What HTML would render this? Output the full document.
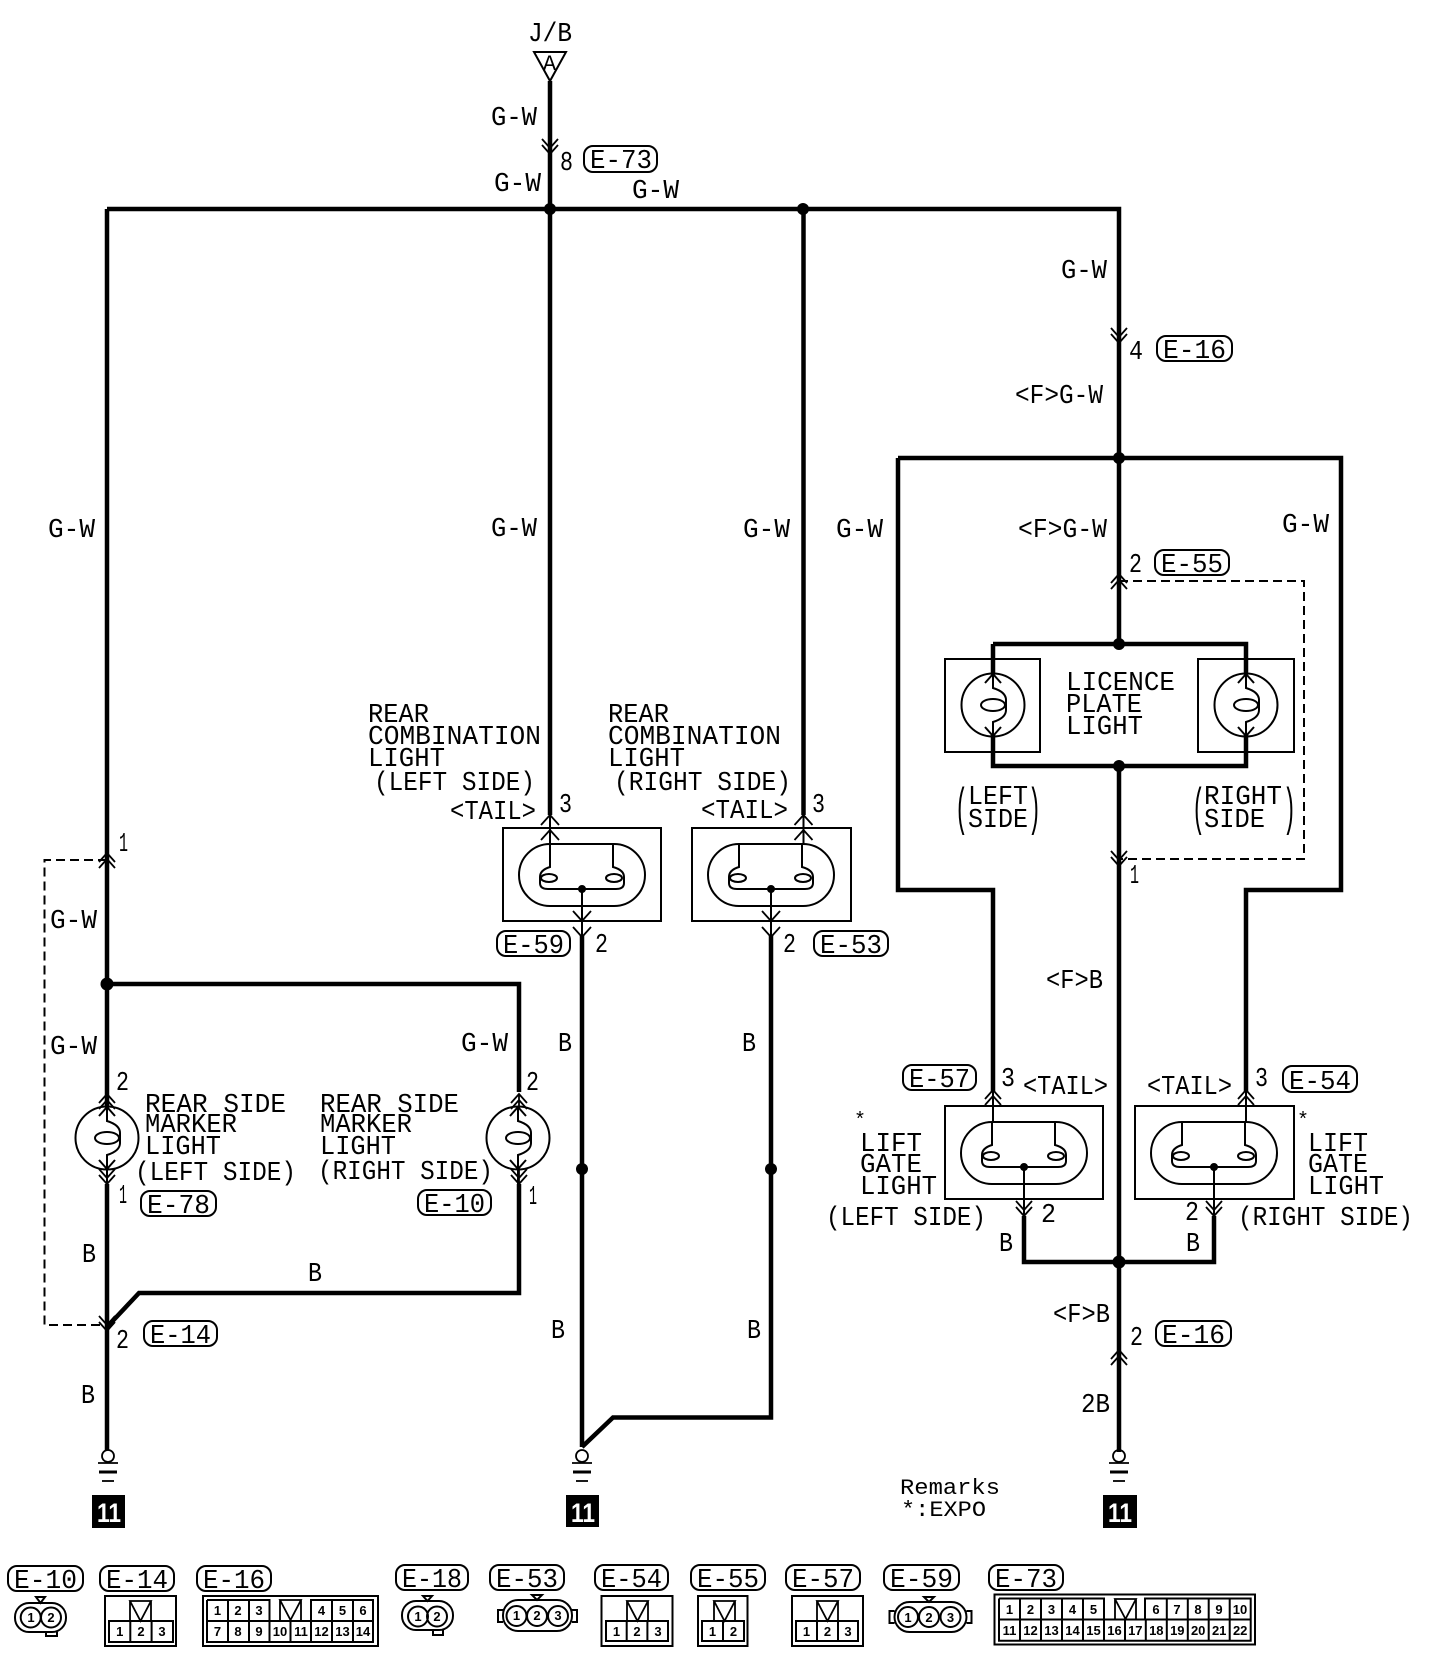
<!DOCTYPE html>
<html><head><meta charset="utf-8"><style>
html,body{margin:0;padding:0;background:#fff}
svg{display:block}
text{font-family:"Liberation Mono",monospace;font-size:27px;fill:#000}
.s{font-family:"Liberation Sans",sans-serif;font-weight:bold;font-size:13px;text-anchor:middle}
.w{fill:none;stroke:#000;stroke-width:4.5;stroke-linejoin:miter}
.t{fill:none;stroke:#000;stroke-width:2}
.d{fill:none;stroke:#000;stroke-width:2;stroke-dasharray:9 5}
.c{fill:none;stroke:#000;stroke-width:2}
</style></head><body>
<svg width="1440" height="1680" viewBox="0 0 1440 1680" xmlns="http://www.w3.org/2000/svg">
<defs>
<path id="u" d="M-8 9L0 0L8 9M-8 15L0 6L8 15M0 0V15" fill="none" stroke="#000" stroke-width="1.8"/>
<path id="n" d="M-8-9L0 0L8-9M-8-15L0-6L8-15M0 0V-15" fill="none" stroke="#000" stroke-width="1.8"/>
<path id="u1" d="M-9 10L0 0L9 10M0 0V12" fill="none" stroke="#000" stroke-width="1.8"/>
<path id="n1" d="M-9-10L0 0L9-10M0 0V-12" fill="none" stroke="#000" stroke-width="1.8"/>
<g id="bulb" fill="none" stroke="#000" stroke-width="2">
<rect x="0" y="0" width="126" height="62" rx="31" ry="31"/>
<path d="M31 0V23Q21 26 21 33V39Q21 45 29 45H97Q105 45 105 39V33Q105 26 94 23V0M31 0H94"/>
<ellipse cx="30" cy="34" rx="8" ry="4"/><ellipse cx="95" cy="34" rx="8" ry="4"/>
<circle cx="63" cy="45" r="3" fill="#000"/>
</g>
<g id="lamp" fill="none" stroke="#000" stroke-width="2">
<circle r="31.500"/><ellipse rx="12" ry="6"/>
<path d="M0-31V-17Q13-13 13-5V5Q13 13 0 17V31M-8-22L0-31L8-22M-8 22L0 31L8 22"/>
</g>
<g id="gnd" fill="none" stroke="#000">
<circle cx="0" cy="-6" r="6" stroke-width="1.800"/>
<path d="M-10 1H10" stroke-width="1.800"/><path d="M-9 10H9" stroke-width="3"/><path d="M-6 19H6" stroke-width="1.800"/>
</g>
<path id="v" d="M0 0H21L10.500 20Z M0 0V20M21 0V20" fill="none" stroke="#000" stroke-width="1.800"/>
</defs>

<!-- main wires -->
<path class="w" d="M107 209H1119V458M550 81V815M803.500 209V815M107 209V1106M107 984H519V1092M107 1184V1450M519 1184V1293H139L107 1327"/>
<path class="w" d="M582 935V1447M582 1447L613 1417.500H771V935"/>
<path class="w" d="M1119 458V644M898 458H1341V890H1246V1092M898 458V890H993V1092M993 644H1246V674M993 644V674M993 735V766H1246V735M1119 766V1452"/>
<path class="w" d="M1024 1216V1262H1214V1216"/>
<!-- dashed -->
<path class="d" d="M107 860H44.500V1325H107"/>
<path class="d" d="M1119 581H1304V859H1119"/>
<!-- junctions -->
<g fill="#000">
<circle cx="550" cy="209" r="6"/><circle cx="803" cy="209" r="6"/><circle cx="1119" cy="458" r="6"/>
<circle cx="1119" cy="644" r="6"/><circle cx="1119" cy="766" r="6"/><circle cx="107" cy="984" r="6.500"/>
<circle cx="582" cy="1169" r="6"/><circle cx="771" cy="1169" r="6"/><circle cx="1119" cy="1262" r="6.500"/>
</g>
<!-- J/B -->
<path class="t" d="M534 52H566L550 81Z"/>
<text x="528" y="41" textLength="44" lengthAdjust="spacingAndGlyphs">J/B</text>
<text x="543" y="70" style="font-size:22px" textLength="13" lengthAdjust="spacingAndGlyphs">A</text>
<!-- boxes -->
<g class="t">
<rect x="503" y="828" width="158" height="93"/><rect x="692" y="828" width="159" height="93"/>
<rect x="945" y="659" width="95" height="93"/><rect x="1198" y="659" width="96" height="93"/>
<rect x="945" y="1106" width="158" height="93"/><rect x="1135" y="1106" width="159" height="93"/>
</g>
<use href="#bulb" x="519" y="844"/><use href="#bulb" x="708" y="844"/>
<use href="#bulb" x="961" y="1122"/><use href="#bulb" x="1151" y="1122"/>
<path class="t" d="M550 815V844M803.500 815V844M582 889V935M771 889V935M993 1092V1122M1246 1092V1122M1024 1167V1216M1214 1167V1216"/>
<use href="#lamp" x="107" y="1138"/><use href="#lamp" x="518" y="1138"/>
<use href="#lamp" x="993" y="705"/><use href="#lamp" x="1246" y="705"/>
<path class="t" d="M107 1106V1090M107 1170V1184M518 1170V1184"/>
<!-- arrows -->
<use href="#n" x="550" y="154"/>
<use href="#u1" x="550" y="815"/><use href="#u1" x="550" y="830"/>
<use href="#u1" x="803.500" y="815"/><use href="#u1" x="803.500" y="830"/>
<use href="#n1" x="582" y="921"/><use href="#n1" x="582" y="937"/>
<use href="#n1" x="771" y="921"/><use href="#n1" x="771" y="937"/>
<use href="#u" x="107" y="853"/>
<use href="#u" x="107" y="1094"/><use href="#u" x="519" y="1094"/>
<use href="#n" x="107" y="1184"/><use href="#n" x="519" y="1184"/>
<use href="#n" x="107" y="1331"/>
<use href="#n" x="1119" y="343"/>
<use href="#u" x="1119" y="574"/>
<use href="#n" x="1119" y="866"/>
<use href="#u" x="993" y="1090"/><use href="#u" x="1246" y="1090"/>
<use href="#n" x="1024" y="1216"/><use href="#n" x="1214" y="1216"/>
<use href="#u" x="1119" y="1350"/>
<!-- grounds -->
<use href="#gnd" x="108" y="1462"/><use href="#gnd" x="582" y="1462"/><use href="#gnd" x="1119" y="1462"/>
<g fill="#000"><rect x="92" y="1495" width="33" height="33"/><rect x="566" y="1495" width="33" height="32"/><rect x="1103" y="1495" width="34" height="33"/></g>
<text x="97" y="1522" style="fill:#fff;font-family:'Liberation Sans',sans-serif;font-weight:bold" textLength="24" lengthAdjust="spacingAndGlyphs">11</text>
<text x="571" y="1522" style="fill:#fff;font-family:'Liberation Sans',sans-serif;font-weight:bold" textLength="24" lengthAdjust="spacingAndGlyphs">11</text>
<text x="1108" y="1522" style="fill:#fff;font-family:'Liberation Sans',sans-serif;font-weight:bold" textLength="24" lengthAdjust="spacingAndGlyphs">11</text>
<!-- wire labels -->
<text x="491" y="125" textLength="46" lengthAdjust="spacingAndGlyphs">G-W</text>
<text x="560" y="170" textLength="13" lengthAdjust="spacingAndGlyphs">8</text>
<text x="494" y="191" textLength="47" lengthAdjust="spacingAndGlyphs">G-W</text>
<text x="632" y="198" textLength="47" lengthAdjust="spacingAndGlyphs">G-W</text>
<text x="48" y="537" textLength="47" lengthAdjust="spacingAndGlyphs">G-W</text>
<text x="491" y="536" textLength="46" lengthAdjust="spacingAndGlyphs">G-W</text>
<text x="1061" y="278" textLength="46" lengthAdjust="spacingAndGlyphs">G-W</text>
<text x="1129" y="359" textLength="14" lengthAdjust="spacingAndGlyphs">4</text>
<text x="1015" y="403" textLength="88" lengthAdjust="spacingAndGlyphs">&lt;F&gt;G-W</text>
<text x="743" y="537" textLength="47" lengthAdjust="spacingAndGlyphs">G-W</text>
<text x="836" y="537" textLength="47" lengthAdjust="spacingAndGlyphs">G-W</text>
<text x="1018" y="537" textLength="89" lengthAdjust="spacingAndGlyphs">&lt;F&gt;G-W</text>
<text x="1282" y="532" textLength="47" lengthAdjust="spacingAndGlyphs">G-W</text>
<text x="1129" y="572" textLength="13" lengthAdjust="spacingAndGlyphs">2</text>
<text x="368" y="722" textLength="61" lengthAdjust="spacingAndGlyphs">REAR</text>
<text x="368" y="744" textLength="173" lengthAdjust="spacingAndGlyphs">COMBINATION</text>
<text x="368" y="766" textLength="77" lengthAdjust="spacingAndGlyphs">LIGHT</text>
<text x="374" y="790" textLength="161" lengthAdjust="spacingAndGlyphs">(LEFT SIDE)</text>
<text x="450" y="819" textLength="86" lengthAdjust="spacingAndGlyphs">&lt;TAIL&gt;</text>
<text x="559" y="812" textLength="13" lengthAdjust="spacingAndGlyphs">3</text>
<text x="608" y="722" textLength="61" lengthAdjust="spacingAndGlyphs">REAR</text>
<text x="608" y="744" textLength="173" lengthAdjust="spacingAndGlyphs">COMBINATION</text>
<text x="608" y="766" textLength="77" lengthAdjust="spacingAndGlyphs">LIGHT</text>
<text x="614" y="790" textLength="177" lengthAdjust="spacingAndGlyphs">(RIGHT SIDE)</text>
<text x="701" y="818" textLength="87" lengthAdjust="spacingAndGlyphs">&lt;TAIL&gt;</text>
<text x="812" y="812" textLength="13" lengthAdjust="spacingAndGlyphs">3</text>
<text x="119" y="851" textLength="9" lengthAdjust="spacingAndGlyphs">1</text>
<text x="50" y="928" textLength="47" lengthAdjust="spacingAndGlyphs">G-W</text>
<text x="595" y="952" textLength="13" lengthAdjust="spacingAndGlyphs">2</text>
<text x="783" y="952" textLength="13" lengthAdjust="spacingAndGlyphs">2</text>
<text x="50" y="1054" textLength="47" lengthAdjust="spacingAndGlyphs">G-W</text>
<text x="461" y="1051" textLength="47" lengthAdjust="spacingAndGlyphs">G-W</text>
<text x="116" y="1090" textLength="13" lengthAdjust="spacingAndGlyphs">2</text>
<text x="526" y="1090" textLength="13" lengthAdjust="spacingAndGlyphs">2</text>
<text x="558" y="1051" textLength="14" lengthAdjust="spacingAndGlyphs">B</text>
<text x="742" y="1051" textLength="14" lengthAdjust="spacingAndGlyphs">B</text>
<text x="145" y="1112" textLength="141" lengthAdjust="spacingAndGlyphs">REAR SIDE</text>
<text x="320" y="1112" textLength="139" lengthAdjust="spacingAndGlyphs">REAR SIDE</text>
<text x="145" y="1132" textLength="92" lengthAdjust="spacingAndGlyphs">MARKER</text>
<text x="320" y="1132" textLength="92" lengthAdjust="spacingAndGlyphs">MARKER</text>
<text x="145" y="1154" textLength="76" lengthAdjust="spacingAndGlyphs">LIGHT</text>
<text x="320" y="1154" textLength="76" lengthAdjust="spacingAndGlyphs">LIGHT</text>
<text x="135" y="1180" textLength="161" lengthAdjust="spacingAndGlyphs">(LEFT SIDE)</text>
<text x="318" y="1179" textLength="175" lengthAdjust="spacingAndGlyphs">(RIGHT SIDE)</text>
<text x="119" y="1203" textLength="8" lengthAdjust="spacingAndGlyphs">1</text>
<text x="529" y="1204" textLength="8" lengthAdjust="spacingAndGlyphs">1</text>
<text x="82" y="1262" textLength="14" lengthAdjust="spacingAndGlyphs">B</text>
<text x="308" y="1281" textLength="14" lengthAdjust="spacingAndGlyphs">B</text>
<text x="116" y="1348" textLength="13" lengthAdjust="spacingAndGlyphs">2</text>
<text x="81" y="1403" textLength="14" lengthAdjust="spacingAndGlyphs">B</text>
<text x="551" y="1338" textLength="14" lengthAdjust="spacingAndGlyphs">B</text>
<text x="747" y="1338" textLength="14" lengthAdjust="spacingAndGlyphs">B</text>
<text x="1066" y="690" textLength="109" lengthAdjust="spacingAndGlyphs">LICENCE</text>
<text x="1066" y="712" textLength="76" lengthAdjust="spacingAndGlyphs">PLATE</text>
<text x="1066" y="734" textLength="77" lengthAdjust="spacingAndGlyphs">LIGHT</text>
<text x="968" y="804" textLength="60" lengthAdjust="spacingAndGlyphs">LEFT</text>
<text x="968" y="827" textLength="60" lengthAdjust="spacingAndGlyphs">SIDE</text>
<text x="1204" y="804" textLength="78" lengthAdjust="spacingAndGlyphs">RIGHT</text>
<text x="1204" y="827" textLength="61" lengthAdjust="spacingAndGlyphs">SIDE</text>
<text x="955" y="824" style="font-size:52px" textLength="13" lengthAdjust="spacingAndGlyphs">(</text>
<text x="1028" y="824" style="font-size:52px" textLength="13" lengthAdjust="spacingAndGlyphs">)</text>
<text x="1192" y="824" style="font-size:52px" textLength="13" lengthAdjust="spacingAndGlyphs">(</text>
<text x="1283" y="824" style="font-size:52px" textLength="13" lengthAdjust="spacingAndGlyphs">)</text>
<text x="1130" y="883" textLength="9" lengthAdjust="spacingAndGlyphs">1</text>
<text x="1046" y="988" textLength="57" lengthAdjust="spacingAndGlyphs">&lt;F&gt;B</text>
<text x="1001" y="1086" textLength="14" lengthAdjust="spacingAndGlyphs">3</text>
<text x="1023" y="1094" textLength="85" lengthAdjust="spacingAndGlyphs">&lt;TAIL&gt;</text>
<text x="1147" y="1094" textLength="85" lengthAdjust="spacingAndGlyphs">&lt;TAIL&gt;</text>
<text x="1255" y="1086" textLength="13" lengthAdjust="spacingAndGlyphs">3</text>
<text x="854" y="1126" style="font-size:20px">*</text>
<text x="1297" y="1126" style="font-size:20px">*</text>
<text x="860" y="1151" textLength="62" lengthAdjust="spacingAndGlyphs">LIFT</text>
<text x="860" y="1172" textLength="62" lengthAdjust="spacingAndGlyphs">GATE</text>
<text x="860" y="1194" textLength="77" lengthAdjust="spacingAndGlyphs">LIGHT</text>
<text x="826" y="1225" textLength="160" lengthAdjust="spacingAndGlyphs">(LEFT SIDE)</text>
<text x="1041" y="1222" textLength="15" lengthAdjust="spacingAndGlyphs">2</text>
<text x="1185" y="1220" textLength="14" lengthAdjust="spacingAndGlyphs">2</text>
<text x="1238" y="1225" textLength="175" lengthAdjust="spacingAndGlyphs">(RIGHT SIDE)</text>
<text x="1308" y="1151" textLength="60" lengthAdjust="spacingAndGlyphs">LIFT</text>
<text x="1308" y="1172" textLength="60" lengthAdjust="spacingAndGlyphs">GATE</text>
<text x="1308" y="1194" textLength="76" lengthAdjust="spacingAndGlyphs">LIGHT</text>
<text x="999" y="1251" textLength="14" lengthAdjust="spacingAndGlyphs">B</text>
<text x="1186" y="1251" textLength="14" lengthAdjust="spacingAndGlyphs">B</text>
<text x="1053" y="1322" textLength="57" lengthAdjust="spacingAndGlyphs">&lt;F&gt;B</text>
<text x="1130" y="1345" textLength="13" lengthAdjust="spacingAndGlyphs">2</text>
<text x="1081" y="1412" textLength="29" lengthAdjust="spacingAndGlyphs">2B</text>
<text x="900" y="1494" style="font-size:22px" textLength="100" lengthAdjust="spacingAndGlyphs">Remarks</text>
<text x="901" y="1516" style="font-size:22px" textLength="85" lengthAdjust="spacingAndGlyphs">*:EXPO</text>
<!-- badges -->
<g class="t">
<rect x="584" y="146" width="73" height="26" rx="9"/><rect x="1157" y="336" width="75" height="25" rx="9"/>
<rect x="1155" y="550" width="74" height="25" rx="9"/><rect x="497" y="931" width="73" height="25" rx="9"/>
<rect x="814" y="931" width="74" height="25" rx="9"/>
<rect x="141" y="1191" width="75" height="25" rx="9"/><rect x="418" y="1190" width="73" height="25" rx="9"/>
<rect x="144" y="1321" width="73" height="25" rx="9"/><rect x="903" y="1065" width="73" height="25" rx="9"/>
<rect x="1283" y="1066" width="74" height="26" rx="9"/><rect x="1156" y="1321" width="75" height="25" rx="9"/>
<rect x="8" y="1566" width="75" height="25" rx="9"/><rect x="100" y="1566" width="74" height="25" rx="9"/>
<rect x="197" y="1566" width="74" height="25" rx="9"/><rect x="396" y="1565" width="72" height="25" rx="9"/>
<rect x="490" y="1565" width="74" height="25" rx="9"/><rect x="595" y="1565" width="73" height="25" rx="9"/>
<rect x="691" y="1565" width="74" height="25" rx="9"/><rect x="786" y="1565" width="74" height="25" rx="9"/>
<rect x="884" y="1565" width="75" height="25" rx="9"/><rect x="989" y="1565" width="74" height="25" rx="9"/>
</g>
<text x="590" y="168" textLength="62" lengthAdjust="spacingAndGlyphs">E-73</text>
<text x="1163" y="358" textLength="63" lengthAdjust="spacingAndGlyphs">E-16</text>
<text x="1161" y="572" textLength="62" lengthAdjust="spacingAndGlyphs">E-55</text>
<text x="503" y="953" textLength="61" lengthAdjust="spacingAndGlyphs">E-59</text>
<text x="820" y="953" textLength="62" lengthAdjust="spacingAndGlyphs">E-53</text>
<text x="147" y="1213" textLength="63" lengthAdjust="spacingAndGlyphs">E-78</text>
<text x="424" y="1212" textLength="61" lengthAdjust="spacingAndGlyphs">E-10</text>
<text x="150" y="1343" textLength="61" lengthAdjust="spacingAndGlyphs">E-14</text>
<text x="909" y="1087" textLength="61" lengthAdjust="spacingAndGlyphs">E-57</text>
<text x="1289" y="1089" textLength="62" lengthAdjust="spacingAndGlyphs">E-54</text>
<text x="1162" y="1343" textLength="63" lengthAdjust="spacingAndGlyphs">E-16</text>
<text x="14" y="1588" textLength="63" lengthAdjust="spacingAndGlyphs">E-10</text>
<text x="106" y="1588" textLength="62" lengthAdjust="spacingAndGlyphs">E-14</text>
<text x="203" y="1588" textLength="62" lengthAdjust="spacingAndGlyphs">E-16</text>
<text x="402" y="1587" textLength="60" lengthAdjust="spacingAndGlyphs">E-18</text>
<text x="496" y="1587" textLength="62" lengthAdjust="spacingAndGlyphs">E-53</text>
<text x="601" y="1587" textLength="61" lengthAdjust="spacingAndGlyphs">E-54</text>
<text x="697" y="1587" textLength="62" lengthAdjust="spacingAndGlyphs">E-55</text>
<text x="792" y="1587" textLength="62" lengthAdjust="spacingAndGlyphs">E-57</text>
<text x="890" y="1587" textLength="63" lengthAdjust="spacingAndGlyphs">E-59</text>
<text x="995" y="1587" textLength="62" lengthAdjust="spacingAndGlyphs">E-73</text>
<!-- round connectors -->
<g class="c">
<rect x="15" y="1603" width="51" height="29" rx="14"/><circle cx="30.700" cy="1617.500" r="10"/><circle cx="51" cy="1617.500" r="10"/>
<path d="M36 1597H45L40.500 1603ZM46 1632V1636H57V1632"/>
<rect x="402" y="1601" width="51" height="29" rx="14"/><circle cx="418" cy="1616.500" r="10"/><circle cx="437" cy="1616.500" r="10"/>
<path d="M423 1596H432L427.500 1601ZM433 1630V1635H443V1630"/>
<rect x="503" y="1600" width="69" height="31" rx="15"/><circle cx="516.500" cy="1616" r="10"/><circle cx="537" cy="1616" r="10"/><circle cx="558" cy="1616" r="10"/>
<path d="M532 1595H542L537 1600ZM503 1610H498V1622H503M572 1610H577V1622H572"/>
<rect x="894.500" y="1602" width="72" height="30" rx="15"/><circle cx="908" cy="1617" r="10"/><circle cx="929" cy="1617" r="10"/><circle cx="950.500" cy="1617" r="10"/>
<path d="M924 1597H934L929 1602ZM894.500 1611H889.500V1623H894.500M966.500 1611H971.500V1623H966.500"/>
</g>
<text class="s" x="31" y="1622">1</text><text class="s" x="51" y="1622">2</text>
<text class="s" x="418" y="1621">1</text><text class="s" x="437" y="1621">2</text>
<text class="s" x="516.500" y="1620">1</text><text class="s" x="537" y="1620">2</text><text class="s" x="558" y="1620">3</text>
<text class="s" x="908" y="1622">1</text><text class="s" x="929" y="1622">2</text><text class="s" x="950.500" y="1622">3</text>
<!-- box connectors -->
<g class="c">
<rect x="105" y="1596" width="71" height="50"/><rect x="109" y="1621" width="64" height="21"/><path d="M130.300 1621V1642M151.600 1621V1642"/>
<rect x="203" y="1596" width="175" height="50"/>
<path d="M207 1600H269.500V1621M311 1621V1600H373V1642H207V1600M207 1621H373M228 1600V1642M249 1600V1642M269.500 1621V1642M290.500 1621V1642M311 1621V1642M332 1600V1642M353 1600V1642"/>
<rect x="601.500" y="1596" width="71" height="50"/><rect x="606" y="1621" width="62" height="20"/><path d="M626.700 1621V1641M647.400 1621V1641"/>
<rect x="698" y="1596" width="49.500" height="50"/><rect x="702" y="1621" width="42" height="20"/><path d="M723 1621V1641"/>
<rect x="792" y="1596" width="71" height="50"/><rect x="796" y="1621" width="62" height="20"/><path d="M817 1621V1641M838 1621V1641"/>
<rect x="994.500" y="1594.500" width="260.500" height="50"/>
<path d="M999 1598.500H1104V1619.500M1145 1619.500V1598.500H1250.700V1640.700H999V1598.500M999 1619.500H1250.700M1020 1598.500V1640.700M1041 1598.500V1640.700M1062 1598.500V1640.700M1083 1598.500V1640.700M1104 1619.500V1640.700M1125 1619.500V1640.700M1145.800 1619.500V1640.700M1166.800 1598.500V1640.700M1187.800 1598.500V1640.700M1208.700 1598.500V1640.700M1229.700 1598.500V1640.700"/>
</g>
<use href="#v" x="130" y="1601"/><use href="#v" x="280" y="1600"/><use href="#v" x="627" y="1601"/><use href="#v" x="714" y="1601"/><use href="#v" x="817" y="1601"/><use href="#v" x="1115" y="1599"/>
<text class="s" x="119.700" y="1636">1</text><text class="s" x="141" y="1636">2</text><text class="s" x="162" y="1636">3</text>
<text class="s" x="217.500" y="1615">1</text><text class="s" x="238" y="1615">2</text><text class="s" x="259" y="1615">3</text><text class="s" x="321.500" y="1615">4</text><text class="s" x="342.500" y="1615">5</text><text class="s" x="363" y="1615">6</text>
<text class="s" x="217.500" y="1636">7</text><text class="s" x="238" y="1636">8</text><text class="s" x="259" y="1636">9</text><text class="s" x="280" y="1636">10</text><text class="s" x="301" y="1636">11</text><text class="s" x="321.500" y="1636">12</text><text class="s" x="342.500" y="1636">13</text><text class="s" x="363" y="1636">14</text>
<text class="s" x="616.500" y="1636">1</text><text class="s" x="637" y="1636">2</text><text class="s" x="658" y="1636">3</text>
<text class="s" x="712.500" y="1636">1</text><text class="s" x="733.500" y="1636">2</text>
<text class="s" x="806.500" y="1636">1</text><text class="s" x="827.500" y="1636">2</text><text class="s" x="848" y="1636">3</text>
<text class="s" x="1009.500" y="1614">1</text><text class="s" x="1030.500" y="1614">2</text><text class="s" x="1051.500" y="1614">3</text><text class="s" x="1072.500" y="1614">4</text><text class="s" x="1093.500" y="1614">5</text>
<text class="s" x="1156" y="1614">6</text><text class="s" x="1177" y="1614">7</text><text class="s" x="1198" y="1614">8</text><text class="s" x="1219" y="1614">9</text><text class="s" x="1240" y="1614">10</text>
<text class="s" x="1009.500" y="1635">11</text><text class="s" x="1030.500" y="1635">12</text><text class="s" x="1051.500" y="1635">13</text><text class="s" x="1072.500" y="1635">14</text><text class="s" x="1093.500" y="1635">15</text><text class="s" x="1114.500" y="1635">16</text><text class="s" x="1135.300" y="1635">17</text><text class="s" x="1156.300" y="1635">18</text><text class="s" x="1177.300" y="1635">19</text><text class="s" x="1198.200" y="1635">20</text><text class="s" x="1219.200" y="1635">21</text><text class="s" x="1240.200" y="1635">22</text>
</svg>
</body></html>
